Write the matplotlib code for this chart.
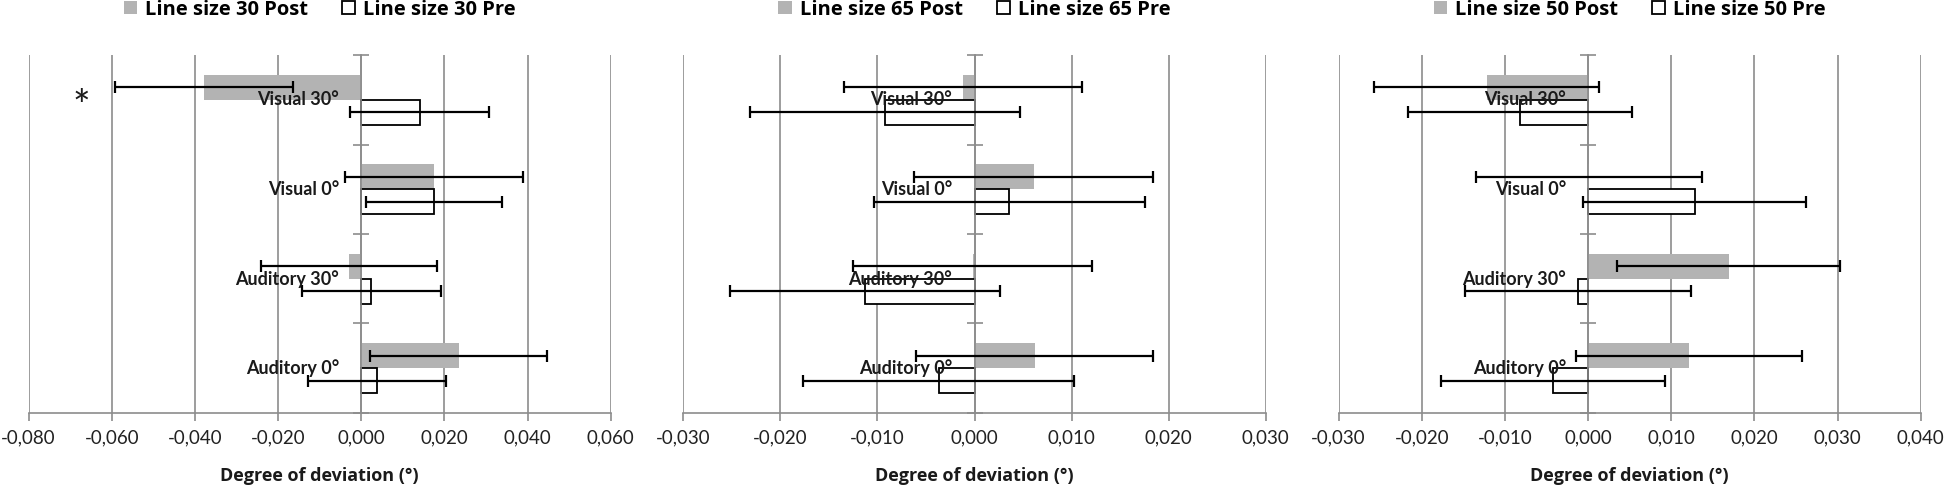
import numpy as np
import matplotlib.pyplot as plt
from matplotlib.patches import Patch
from matplotlib.ticker import FuncFormatter

plt.rcParams['font.family'] = ['Lato', 'DejaVu Sans']

# data
categories = ['Visual 30°', 'Visual 0°', 'Auditory 30°', 'Auditory 0°']
line_sizes = ['30', '65', '50']

post_30 = [-0.0379, 0.0175, -0.0029, 0.0234]
post_30_err = [0.0214, 0.0213, 0.0211, 0.0213]
pre_30 = [0.0141, 0.0175, 0.0024, 0.0037]
pre_30_err = [0.0167, 0.0164, 0.0167, 0.0166]

post_65 = [-0.0012, 0.0061, -0.0002, 0.0062]
post_65_err = [0.0123, 0.0123, 0.0123, 0.0122]
pre_65 = [-0.0092, 0.0036, -0.0113, -0.0037]
pre_65_err = [0.0139, 0.0140, 0.0139, 0.0140]

post_50 = [-0.0122, 0.0001, 0.0169, 0.0121]
post_50_err = [0.0135, 0.0136, 0.0134, 0.0136]
pre_50 = [-0.0082, 0.0128, -0.0012, -0.0042]
pre_50_err = [0.0135, 0.0134, 0.0136, 0.0135]

xlims = [(-0.08, 0.06), (-0.03, 0.03), (-0.03, 0.04)]
xsteps = [0.02, 0.01, 0.01]

panels = [
    (post_30, post_30_err, pre_30, pre_30_err),
    (post_65, post_65_err, pre_65, pre_65_err),
    (post_50, post_50_err, pre_50, pre_50_err),
]

grid_col = '#8c8c8c'
post_col = '#b3b3b3'
lefts = [0.0147, 0.3505, 0.6865]

fig = plt.figure(figsize=(19.5, 4.88), dpi=100)

y = np.arange(len(categories))
h = 0.28

for i, (post, post_err, pre, pre_err) in enumerate(panels):
    ax = fig.add_axes([lefts[i], 0.154, 0.2985, 0.733])
    lo, hi = xlims[i]
    ticks = np.arange(lo, hi + xsteps[i] / 2, xsteps[i])
    ax.set_xlim(lo, hi)
    ax.set_xticks(ticks)
    ax.xaxis.set_major_formatter(FuncFormatter(lambda v, p: ('%.3f' % v).replace('.', ',').replace('-0,000', '0,000')))
    for t in ticks:
        ax.axvline(t, color=grid_col, lw=1.2, zorder=0)

    ax.barh(y - h / 2, post, height=h, color=post_col, edgecolor='none', zorder=2)
    ax.barh(y + h / 2, pre, height=h, color='white', edgecolor='black', lw=1.3, zorder=2)
    ax.errorbar(post, y - h / 2, xerr=post_err, fmt='none', ecolor='black',
                elinewidth=1.6, capsize=4, capthick=1.6, zorder=3)
    ax.errorbar(pre, y + h / 2, xerr=pre_err, fmt='none', ecolor='black',
                elinewidth=1.6, capsize=4, capthick=1.6, zorder=3)

    ax.set_ylim(3.5, -0.5)
    ax.set_yticks(np.arange(-0.5, 4.0, 1.0))
    ax.set_yticklabels([])
    ax.tick_params(axis='y', direction='inout', length=11, width=1.2, color=grid_col)
    ax.tick_params(axis='x', direction='out', length=6, width=1.2, color=grid_col,
                   labelsize=13.5, pad=6, labelcolor='#222222')
    for s in ['top', 'right']:
        ax.spines[s].set_visible(False)
    ax.spines['left'].set_position(('data', 0))
    ax.spines['left'].set_color(grid_col)
    ax.spines['left'].set_linewidth(1.2)
    ax.spines['bottom'].set_color(grid_col)
    ax.spines['bottom'].set_linewidth(1.2)

    for j, c in enumerate(categories):
        ax.annotate(c, (0, j), xytext=(-16, 0), textcoords='offset points',
                    ha='right', va='center', fontsize=13, fontweight='bold',
                    color='#1a1a1a', zorder=5)

    ax.set_xlabel('Degree of deviation (°)', fontsize=13, fontweight='bold', color='#1a1a1a',
                  family=['Open Sans', 'DejaVu Sans'])
    ax.xaxis.label.set_va('center')
    ax.xaxis.set_label_coords(0.5, -0.176)

    handles = [Patch(facecolor=post_col, edgecolor='none'),
               Patch(facecolor='white', edgecolor='black', lw=1.3)]
    ax.legend(handles, ['Line size %s Post' % line_sizes[i], 'Line size %s Pre' % line_sizes[i]],
              loc='center', bbox_to_anchor=(0.5, 1.127), ncol=2, frameon=False,
              prop={'size': 14.5, 'weight': 'bold', 'family': ['Open Sans', 'DejaVu Sans']},
              handlelength=0.65, handleheight=0.65, handletextpad=0.4, columnspacing=1.7)

    if i == 0:
        # significance marker next to Visual 30° post
        ax.text(-0.0673, 0.23, '*', fontsize=30, ha='center', va='baseline', color='#1a1a1a')

fig.savefig('out.png', dpi=100)
